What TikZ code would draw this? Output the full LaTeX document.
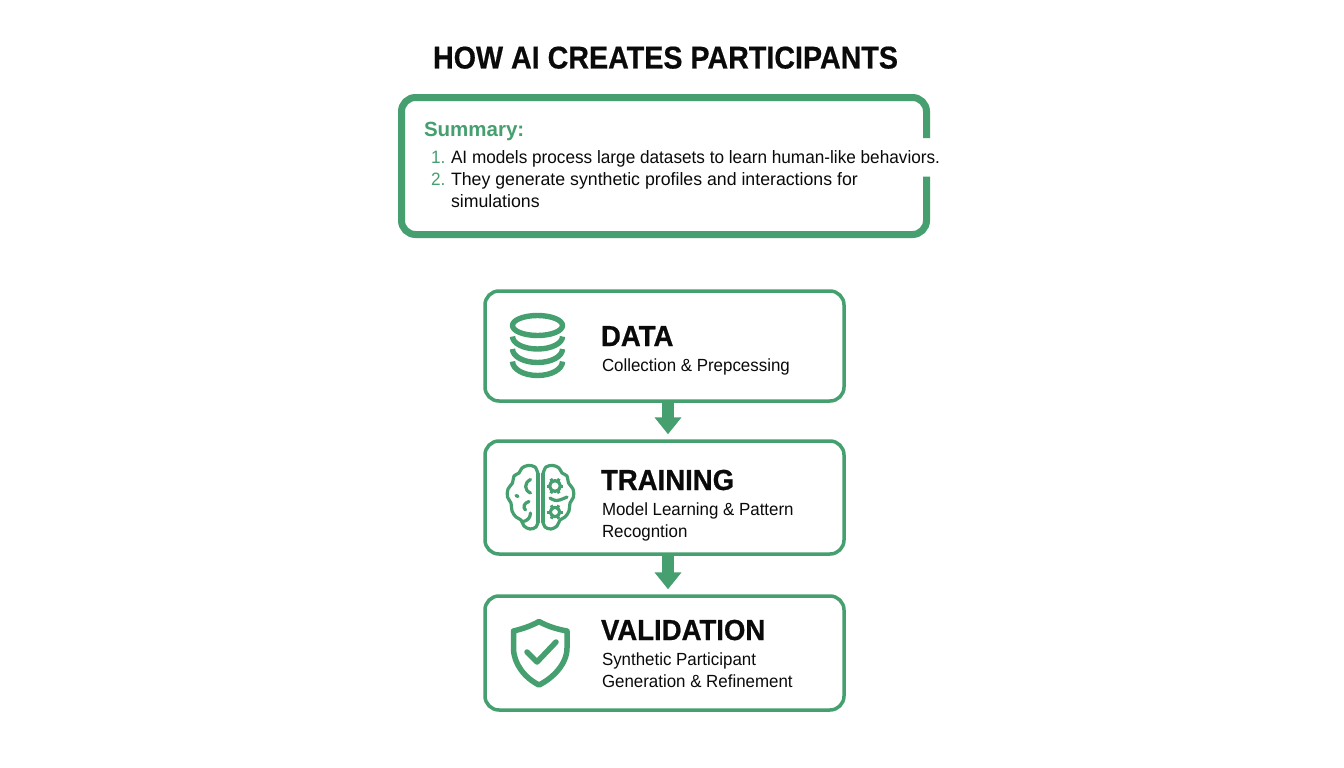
\documentclass[tikz,border=0pt]{standalone}
\usepackage{fontspec}
\setmainfont{Liberation Sans}
\newfontfamily\titlef[FakeStretch=0.91,FakeBold=0.5]{Liberation Sans Bold}
\newfontfamily\headf[FakeStretch=0.95,FakeBold=0.7]{Liberation Sans Bold}
\newfontfamily\bodyf[FakeStretch=0.96]{Liberation Sans}
\newfontfamily\bodyw[FakeStretch=0.99]{Liberation Sans}
\usetikzlibrary{arrows.meta}
\definecolor{gr}{HTML}{459F6F}
\definecolor{ink}{HTML}{0A0A0A}
\newcommand{\fs}[1]{\fontsize{#1}{#1}\selectfont}
\tikzset{
  card/.style={draw=gr,line width=3.5pt,rounded corners=14pt,fill=white,minimum width=359pt,inner sep=0pt},
  txt/.style={anchor=base west,inner sep=0pt,outer sep=0pt,text=ink},
  head/.style={txt,font=\headf\fs{29}},
  subt/.style={txt,font=\bodyf\fs{17.6}},
  sumt/.style={txt,font=\bodyf\fs{17.9}},
  sumw/.style={txt,font=\bodyw\fs{17.9}},
  num/.style={txt,text=gr,font=\bodyf\fs{17.9}},
  flow/.style={draw=gr,line width=11.5pt,-{Triangle[length=17pt,width=26pt]},shorten >=5pt},
  icon/.style={draw=gr,line cap=round,line join=round},
}
\begin{document}
\begin{tikzpicture}[x=1pt,y=-1pt]
\useasboundingbox (0,0) rectangle (1344,768);
\fill[white] (0,0) rectangle (1344,768);

\node[txt,font=\titlef\fs{31.5}] (title) at (433,68.5) {HOW AI CREATES PARTICIPANTS};

% summary frame, open on the right
\draw[draw=gr,line width=7pt,rounded corners=14pt]
  (926.5,138) -- (926.5,97.5) -- (401.5,97.5) -- (401.5,234.5) -- (926.5,234.5) -- (926.5,176.5);
\node[txt,text=gr,font=\bfseries\fs{20.5}] (sumhead) at (424,136.5) {Summary:};
\node[num] (n1) at (431,163) {1.};
\node[num] (n2) at (431,185.5) {2.};
\node[sumt] (s1) at (451,163) {AI models process large datasets to learn human-like behaviors.};
\node[sumw] (s2) at (451,185.5) {They generate synthetic profiles and interactions for};
\node[sumw] (s3) at (451,207.5) {simulations};

% cards
\node[card,minimum height=110pt] (data) at (664.5,346) {};
\node[card,minimum height=113pt] (training) at (664.5,497.5) {};
\node[card,minimum height=114pt] (validation) at (664.5,653) {};

\draw[flow] ([xshift=3.5pt]data.south) -- ([xshift=3.5pt]training.north);
\draw[flow] ([xshift=3.5pt]training.south) -- ([xshift=3.5pt]validation.north);

\node[head] (h1) at (601,346) {DATA};
\node[subt] (t1) at (602,371) {Collection \& Prepcessing};
\node[head] (h2) at (601,490) {TRAINING};
\node[subt] (t2a) at (602,515) {Model Learning \& Pattern};
\node[subt] (t2b) at (602,537) {Recogntion};
\node[head] (h3) at (601,640) {VALIDATION};
\node[subt] (t3a) at (602,665) {Synthetic Participant};
\node[subt] (t3b) at (602,687) {Generation \& Refinement};

% database icon
\begin{scope}[icon,line width=5.4pt]
\draw (537.5,325.5) ellipse [x radius=25,y radius=10];
\draw[line cap=butt] (512.5,336.5) arc[start angle=180,end angle=0,x radius=25,y radius=12.5];
\draw[line cap=butt] (512.5,349) arc[start angle=180,end angle=0,x radius=25,y radius=13.5];
\draw[line cap=butt] (512.5,361.5) arc[start angle=180,end angle=0,x radius=25,y radius=14];
\end{scope}

% brain icon
\begin{scope}[icon,line width=3.2pt]
\draw plot[smooth,tension=.6] coordinates {(538,474) (535,467) (528,465.5) (522,468) (519,473) (514,476) (512.5,483) (508,489) (507.5,497) (511,503) (512,511) (516,517) (521,520) (524,526) (530,529) (536,527) (538,522)};
\draw (538,474) -- (538,522);
\draw plot[smooth,tension=.6] coordinates {(543,474) (546,467) (553,465.5) (559,468) (562,473) (567,476) (568.5,483) (573,489) (573.5,497) (570,503) (569,511) (565,517) (560,520) (557,526) (551,529) (545,527) (543,522)};
\draw (543,474) -- (543,522);
\draw (530.5,479.5) .. controls (524,483) and (524,490) .. (530.5,493);
\draw (529,501.5) .. controls (524,503) and (522.5,507) .. (525.5,510);
\draw (530.5,513) .. controls (530.5,518) and (527,521) .. (523,521.5);
\draw (516,495.5) -- (518,496.5);
\draw plot[smooth,tension=.7] coordinates {(550,498) (557,500.5) (567,497)};
\foreach \cx/\cy/\rr in {555/486/5.4,555/512/4.7}{
  \draw (\cx,\cy) circle[radius=\rr];
  \foreach \a in {0,60,...,300}
    \draw[line width=3pt,line cap=butt] ({\cx+\rr*cos(\a)},{\cy+\rr*sin(\a)}) -- ({\cx+(\rr+3)*cos(\a)},{\cy+(\rr+3)*sin(\a)});
}
\end{scope}

% shield icon
\begin{scope}[icon,line width=5.5pt]
\draw (539,621.5) .. controls (531,626) and (522,629) .. (513.5,631)
  -- (513.5,648) .. controls (513.5,664) and (525,678) .. (539,685)
  .. controls (553,678) and (567,664) .. (567,648) -- (567,631)
  .. controls (556,629) and (547,626) .. (539,621.5) -- cycle;
\draw (527,652) -- (537,662) -- (556,642);
\end{scope}
\end{tikzpicture}
\end{document}
